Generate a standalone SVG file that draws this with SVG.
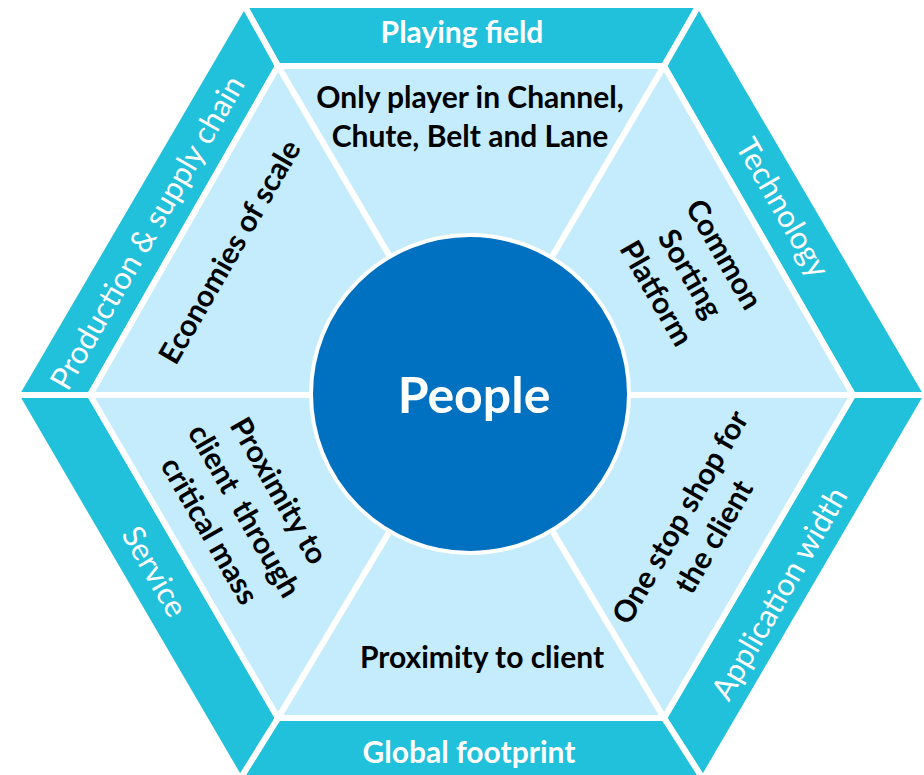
<svg xmlns="http://www.w3.org/2000/svg" width="924" height="775" viewBox="0 0 924 775">
<style>
.band{fill:#21C0DB;stroke:#FFFFFF;stroke-width:6;stroke-linejoin:miter}
.cell{fill:#C4ECFC;stroke:#FFFFFF;stroke-width:6;stroke-linejoin:miter}
.bl{font-family:Lato,"Open Sans",sans-serif;fill:#FFFFFF;font-size:31px;text-anchor:middle}
.blb{font-family:Lato,"Open Sans",sans-serif;fill:#FFFFFF;font-size:30px;font-weight:bold;text-anchor:middle}
.cl{font-family:Lato,"Open Sans",sans-serif;fill:#000000;font-size:30px;font-weight:bold;text-anchor:middle;white-space:pre}
</style>
<rect x="0" y="0" width="924" height="775" fill="#FFFFFF"/>
<g id="band-playing-field">
<polygon class="band" points="244,5 699,5 664,66 278,66"/>
<text class="blb" x="462" y="43">Playing field</text>
</g>
<g id="band-technology">
<polygon class="band" points="699,5 927,395 853,395 664,66"/>
<text class="bl" transform="translate(782,208) rotate(60)" y="10">Technology</text>
</g>
<g id="band-application-width">
<polygon class="band" points="927,395 703,779 664,718 853,395"/>
<text class="bl" transform="translate(780,594) rotate(-60)" y="10">Application width</text>
</g>
<g id="band-global-footprint">
<polygon class="band" points="703,779 240,779 278,718 664,718"/>
<text class="blb" x="469" y="763">Global footprint</text>
</g>
<g id="band-service">
<polygon class="band" points="240,779 16,395 90,395 278,718"/>
<text class="bl" transform="translate(154,572) rotate(60)" y="10">Service</text>
</g>
<g id="band-production">
<polygon class="band" points="16,395 244,5 278,66 90,395"/>
<text class="bl" transform="translate(148,233) rotate(-60)" y="10">Production &amp; supply chain</text>
</g>
<g id="cell-top">
<polygon class="cell" points="471,395 278,66 664,66"/>
<text class="cl" x="470" y="108">Only player in Channel,</text>
<text class="cl" x="470" y="147">Chute, Belt and Lane</text>
</g>
<g id="cell-top-right">
<polygon class="cell" points="471,395 664,66 853,395"/>
<text class="cl" transform="translate(690,274) rotate(60)"><tspan x="0" y="-29">Common</tspan><tspan x="0" y="10">Sorting</tspan><tspan x="0" y="49">Platform</tspan></text>
</g>
<g id="cell-bottom-right">
<polygon class="cell" points="471,395 853,395 664,718"/>
<text class="cl" transform="translate(697,527) rotate(-60)"><tspan x="0" y="-9">One stop shop for</tspan><tspan x="0" y="30">the client</tspan></text>
</g>
<g id="cell-bottom">
<polygon class="cell" points="471,395 664,718 278,718"/>
<text class="cl" x="482" y="668">Proximity to client</text>
</g>
<g id="cell-bottom-left">
<polygon class="cell" points="471,395 278,718 90,395"/>
<text class="cl" transform="translate(244,511) rotate(60)"><tspan x="0" y="-30">Proximity to</tspan><tspan x="0" y="10">client  through</tspan><tspan x="0" y="50">critical mass</tspan></text>
</g>
<g id="cell-top-left">
<polygon class="cell" points="471,395 90,395 278,66"/>
<text class="cl" transform="translate(230,252) rotate(-60)" y="10">Economies of scale</text>
</g>
<g id="center-people">
<circle cx="470" cy="394" r="159" fill="#0070C0" stroke="#FFFFFF" stroke-width="4"/>
<text x="474" y="413" font-family="Lato,'Open Sans',sans-serif" font-size="50" font-weight="bold" fill="#FFFFFF" text-anchor="middle">People</text>
</g>
<g id="connectors"></g>
</svg>
